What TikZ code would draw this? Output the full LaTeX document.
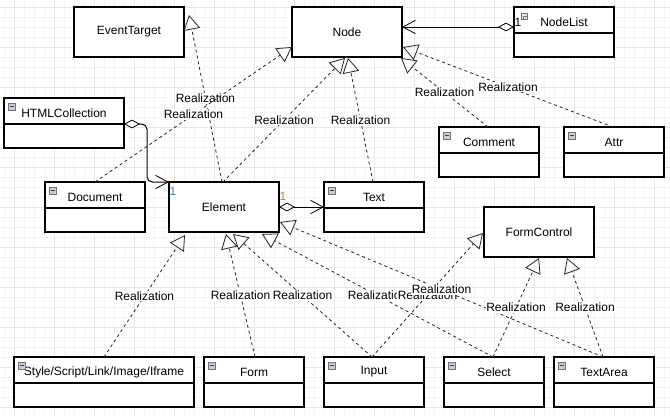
\documentclass[tikz,border=0pt]{standalone}
\usepackage{fontspec}
\setmainfont{Liberation Sans}
\usetikzlibrary{arrows.meta,calc}
\definecolor{gridmin}{HTML}{F4F4F4}
\definecolor{gridmaj}{HTML}{E6E6E6}
\definecolor{onebl}{HTML}{2F7FC1}
\definecolor{oneor}{HTML}{C98A2A}
\definecolor{iconfill}{HTML}{C8CDD4}
\definecolor{iconline}{HTML}{6B7480}

\newcommand{\plainbox}[5]{%
  \node[boxst, minimum width=#4, anchor=north west] (#1) at (#2,#3) {#5};}
\newcommand{\classframe}[5]{%
  \node[boxst, minimum width=#4, anchor=north west] (#1) at (#2,#3) {};
  \draw[line width=0.8pt] ($(#1.north west)+(0,26)$) -- ($(#1.north east)+(0,26)$);
  \node[inner sep=0pt] (#1t) at ($(#1.north)+(0,15)$) {#5};}
\newcommand{\minusicon}[1]{%
  \draw[draw=iconline, fill=iconfill, line width=0.5pt] ($(#1.north west)+(4,5)$) rectangle ($(#1.north west)+(11,12)$);
  \draw[iconline!60!black, line width=0.6pt] ($(#1.north west)+(5.5,8.5)$) -- ($(#1.north west)+(9.5,8.5)$);}

\tikzset{
  boxst/.style={draw, line width=0.8pt, fill=white, inner sep=0pt, outer sep=0pt, minimum height=37.5pt},
  real/.style={draw=black!85, line width=0.6pt, dash pattern=on 2.25pt off 2.25pt,
    -{Triangle[open,length=11pt,width=12.5pt,line width=0.6pt]}},
  assoc/.style={draw=black, line width=0.75pt,
    {Diamond[open,length=12pt,width=6.5pt,line width=0.6pt]}-{Straight Barb[length=9.5pt,width=10pt,line width=0.6pt]}},
  lbl/.style={fill=white, inner sep=0.6pt, text=black},
}

\begin{document}
\begin{tikzpicture}[x=0.75pt,y=-0.75pt,font=\fontsize{9pt}{10.5pt}\selectfont]
\useasboundingbox (0,0) rectangle (670,415);
\fill[white] (0,0) rectangle (670,415);
% grid
\foreach \x in {4,14,...,664} \draw[gridmin, line width=0.75pt] (\x,0) -- (\x,415);
\foreach \y in {7,17,...,407} \draw[gridmin, line width=0.75pt] (0,\y) -- (670,\y);
\foreach \x in {14,54,...,654} \draw[gridmaj, line width=0.75pt] (\x,0) -- (\x,415);
\foreach \y in {7,47,...,407} \draw[gridmaj, line width=0.75pt] (0,\y) -- (670,\y);

% plain boxes
\plainbox{et}{74}{7}{82.5pt}{EventTarget}
\plainbox{nd}{292}{7}{82.5pt}{Node}
\plainbox{el}{169}{182}{82.5pt}{Element}
\plainbox{fc}{484}{207}{82.5pt}{FormControl}

% class boxes
\classframe{nl}{514}{7}{75pt}{NodeList}
\classframe{hc}{4}{98}{90pt}{HTMLCollection}
\classframe{cm}{439}{127}{75pt}{Comment}
\classframe{at}{564}{127}{75pt}{Attr}
\classframe{dc}{45}{182}{75pt}{Document}
\classframe{tx}{324}{182}{75pt}{Text}
\classframe{st}{14}{357}{135pt}{Style/Script/Link/Image/Iframe}
\classframe{fm}{204}{357}{75pt}{Form}
\classframe{in}{324}{357}{75pt}{Input}
\classframe{se}{444}{357}{75pt}{Select}
\classframe{ta}{554}{357}{75pt}{TextArea}
\minusicon{hc}\minusicon{cm}\minusicon{at}\minusicon{dc}\minusicon{tx}
\minusicon{st}\minusicon{fm}\minusicon{in}\minusicon{se}\minusicon{ta}
% NodeList icon
\draw[draw=iconline, fill=iconfill!50, line width=0.5pt] ($(nl.north west)+(7,6)$) rectangle ($(nl.north west)+(13,12)$);
\draw[draw=iconline, line width=0.5pt] ($(nl.north west)+(9,12)$) -- ($(nl.north west)+(9,9)$) -- ($(nl.north west)+(13,9)$);

% associations
\draw[assoc] ($(nl.north west)+(0,20)$) -- ($(nd.east)+(0,-5)$);
\draw[assoc, rounded corners=4pt] ($(hc.north east)+(0,26)$) -- ++(23,0) |- (el.north west);
\draw[assoc] (el.east) -- (tx.west);
\node[text=black] (one1) at ($(nl.north west)+(4,15)$) {1};
\node[text=onebl] (one2) at ($(el.north west)+(4,9)$) {1};
\node[text=oneor] (one3) at ($(el.north east)+(4,14)$) {1};

% realizations (top)
\draw[real] ($(el.north)+(-2,0)$) -- ($(et.east)+(5,-17)$) node[lbl,pos=.5] (l1) {Realization};
\draw[real] (dc.north) -- ($(nd.south west)+(0,-10)$) node[lbl,pos=.5] (l2) {Realization};
\draw[real] ($(el.north)+(-1,0)$) -- ($(nd.south)+(-2,1)$) node[lbl,pos=.5] (l3) {Realization};
\draw[real] ($(tx.north)+(-1,0)$) -- ($(nd.south)+(1,1)$) node[lbl,pos=.5] (l4) {Realization};
\draw[real] ($(cm.north)+(-1,0)$) -- ($(nd.south east)+(-1,1)$) node[lbl,pos=.5] (l5) {Realization};
\draw[real] ($(at.north)+(-1,0)$) -- ($(nd.south east)+(1,-10)$) node[lbl,pos=.5] (l6) {Realization};

% realizations (bottom)
\draw[real] (st.north) -- ($(el.south west)+(16,3)$) node[lbl,pos=.5] (l7) {Realization};
\draw[real] ($(fm.north)+(1,0)$) -- ($(el.south)+(2,2)$) node[lbl,pos=.5] (l8) {Realization};
\draw[real] ($(in.north)+(-2,0)$) -- ($(el.south)+(9,2)$) node[lbl,pos=.5] (l9) {Realization};
\draw[real] ($(se.north)+(-1,0)$) -- ($(el.south east)+(-17,2)$) node[lbl,pos=.5] (l10) {Realization};
\draw[real] ($(in.north)+(-2,0)$) -- ($(fc.west)+(-1,1)$) node[lbl,pos=.5] (l11) {Realization};
\draw[real] ($(ta.north)+(-1,0)$) -- ($(el.east)+(1,15)$) node[lbl,pos=.5] (l12) {Realization};
\draw[real] ($(se.north)+(-1,0)$) -- ($(fc.south)+(0,1)$) node[lbl,pos=.5] (l13) {Realization};
\draw[real] ($(ta.north)+(-1,0)$) -- ($(fc.south)+(28,1)$) node[lbl,pos=.5] (l14) {Realization};
\end{tikzpicture}
\end{document}
